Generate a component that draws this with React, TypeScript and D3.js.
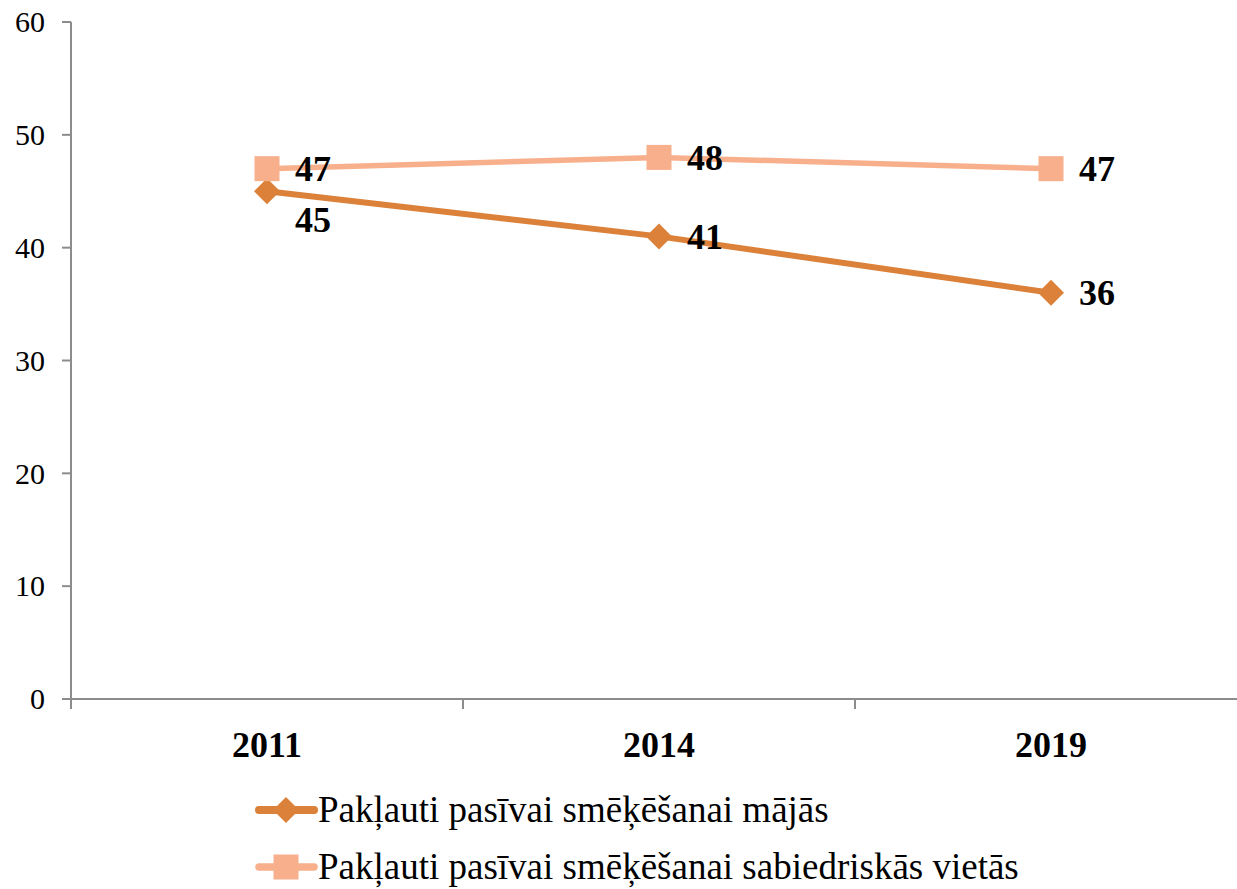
import React from 'react';
import * as d3 from 'd3';

const years = ['2011', '2014', '2019'];
const homeValues = [45, 41, 36];
const publicValues = [47, 48, 47];
const seriesNames = [
  'Pakļauti pasīvai smēķēšanai mājās',
  'Pakļauti pasīvai smēķēšanai sabiedriskās vietās',
];
const yTicks = [0, 10, 20, 30, 40, 50, 60];

const width = 1237;
const height = 889;
const margin = { left: 71, top: 22, right: -10, bottom: 190 };

const DARK = '#DB8139';
const LIGHT = '#F8B08C';
const serif = '"Liberation Serif", "Times New Roman", serif';

const App: React.FC = () => {
  const x = d3
    .scaleBand<string>()
    .domain(years)
    .range([margin.left, width - margin.right]);
  const y = d3
    .scaleLinear()
    .domain([0, 60])
    .range([height - margin.bottom, margin.top]);

  const cx = (d: string) => (x(d) ?? 0) + x.bandwidth() / 2;
  const line = d3
    .line<number>()
    .x((_, i) => cx(years[i]))
    .y((v) => y(v));

  const series = [
    { name: seriesNames[0], values: homeValues, color: DARK, width: 6, marker: 'diamond' },
    { name: seriesNames[1], values: publicValues, color: LIGHT, width: 5.5, marker: 'square' },
  ];

  const marker = (kind: string, color: string, px: number, py: number, key: string) =>
    kind === 'diamond' ? (
      <path
        key={key}
        d={`M${px},${py - 13}L${px + 13},${py}L${px},${py + 13}L${px - 13},${py}Z`}
        fill={color}
      />
    ) : (
      <rect key={key} x={px - 12.5} y={py - 12.5} width={25} height={25} fill={color} />
    );

  // labels sit to the right; the home label drops below when too close to the public one
  const labelDy = (si: number, i: number) => {
    if (si !== 0) return 0;
    const gap = y(homeValues[i]) - y(publicValues[i]);
    return gap < 30 ? 29 : 0;
  };

  const bottom = height - margin.bottom;
  const xTickPos = d3.range(years.length + 1).map((i) => margin.left + i * x.bandwidth());

  return (
    <div style={{ position: 'absolute', left: 0, top: 0 }}>
      <svg width={width} height={height} style={{ display: 'block', background: '#fff' }}>
        {/* y axis */}
        <line x1={margin.left} x2={margin.left} y1={margin.top} y2={bottom} stroke="#8c8c8c" strokeWidth={2} />
        {yTicks.map((t) => (
          <g key={t}>
            <line x1={margin.left - 9} x2={margin.left} y1={y(t)} y2={y(t)} stroke="#8c8c8c" strokeWidth={2} />
            <text
              x={45}
              y={y(t)}
              dy="0.34em"
              textAnchor="end"
              fontFamily={serif}
              fontSize={30}
              fill="#000"
            >
              {t}
            </text>
          </g>
        ))}
        {/* x axis */}
        <line x1={margin.left} x2={width} y1={bottom} y2={bottom} stroke="#8c8c8c" strokeWidth={2} />
        {xTickPos.map((p, i) => (
          <line key={i} x1={p} x2={p} y1={bottom} y2={bottom + 10} stroke="#8c8c8c" strokeWidth={2} />
        ))}
        {years.map((yr) => (
          <text
            key={yr}
            x={cx(yr)}
            y={757}
            textAnchor="middle"
            fontFamily={serif}
            fontSize={36}
            fontWeight="bold"
            fill="#000"
          >
            {yr}
          </text>
        ))}
        {/* series */}
        {series.map((s) => (
          <path
            key={s.name}
            d={line(s.values) ?? ''}
            fill="none"
            stroke={s.color}
            strokeWidth={s.width}
            strokeLinejoin="round"
            strokeLinecap="round"
          />
        ))}
        {series.map((s) => s.values.map((v, i) => marker(s.marker, s.color, cx(years[i]), y(v), `${s.name}-${i}`)))}
        {series.map((s, si) =>
          s.values.map((v, i) => (
            <text
              key={`${s.name}-l-${i}`}
              x={cx(years[i]) + 28}
              y={y(v) + labelDy(si, i)}
              dy="0.34em"
              fontFamily={serif}
              fontSize={36}
              fontWeight="bold"
              fill="#000"
            >
              {v}
            </text>
          ))
        )}
        {/* legend */}
        {series.map((s, i) => {
          const ly = 810 + i * 57;
          return (
            <g key={`lg-${i}`}>
              <line x1={259} x2={314} y1={ly} y2={ly} stroke={s.color} strokeWidth={s.width + 2} strokeLinecap="round" />
              {marker(s.marker, s.color, 286, ly, `lm-${i}`)}
              <text x={318} y={ly + 12} fontFamily={serif} fontSize={37} fill="#000">
                {s.name}
              </text>
            </g>
          );
        })}
      </svg>
    </div>
  );
};

export default App;
